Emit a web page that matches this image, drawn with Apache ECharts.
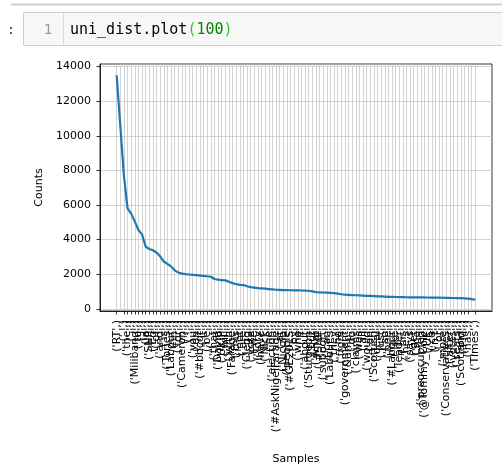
<!DOCTYPE html>
<html>
    <head>
        <meta charset="utf-8">
        <title>uni_dist</title>
    </head>
    <body style="margin: 0; background: #fff">
        <div id="container" style="width: 502px; height: 470px"></div>
        <script src="https://cdn.jsdelivr.net/npm/echarts@6/dist/echarts.min.js"></script>
        <script>
            // top 100 samples of the frequency distribution
            let samples = [
                "RT", ":", ".", "the", ",", "Miliband", "to", "I", "a", "SNP",
                "Ed", "of", "and", "is", "Tories", "Labour", "in", "for", "Cameron", "?",
                "!", "you", "on", "#bbcqt", "it", "be", "...", "that", "David", "UKIP",
                "will", "with", "Farage", "this", "not", "are", "Clegg", "vote", "we", "Tory",
                "have", "Nick", "he", "election", "#AskNigelFarage", "at", "Nicola", "people", "#GE2015", "by",
                "who", "if", "about", "Sturgeon", "but", "what", "#SNP", "support", "can", "Labour's",
                "they", "no", "from", "government", "&amp;", "do", "claims", "was", "all", "would",
                "an", "Scottish", "deal", "just", "so", "one", "#Labour", "like", "leader", "his",
                "he's", "says", "get", "me", "preoccupied", "@Tommy_Colc", "UK", "ca", "n't", "or",
                "more", "Conservatives", "after", "votes", "seats", "Scotland", "PM", "has", "#Tories", "Times"
            ];

            let counts = [
                13500, 10600, 7700, 5800, 5500, 5050, 4550, 4300, 3600, 3450,
                3380, 3250, 3030, 2730, 2590, 2450, 2220, 2100, 2030, 2000,
                1980, 1960, 1940, 1920, 1900, 1880, 1850, 1720, 1680, 1660,
                1640, 1560, 1480, 1420, 1380, 1370, 1300, 1250, 1220, 1190,
                1180, 1160, 1140, 1120, 1100, 1090, 1080, 1075, 1070, 1065,
                1060, 1055, 1045, 1040, 1000, 960, 950, 940, 930, 920,
                900, 870, 840, 810, 800, 790, 780, 770, 760, 750,
                740, 730, 720, 710, 700, 690, 685, 680, 675, 670,
                665, 662, 660, 658, 655, 652, 650, 648, 645, 640,
                635, 630, 625, 622, 618, 614, 605, 590, 560, 520
            ];

            let yTicks = [0, 2000, 4000, 6000, 8000, 10000, 12000, 14000];

            let xIndex = [];
            let points = [];
            for (let index = 0; index < samples.length; index++) {
                xIndex.push(index);
                points.push([index, counts[index]]);
            }

            let dom = document.getElementById("container");
            let chart = echarts.init(dom, null, { renderer: "canvas" });

            let option = {
                animation: false,
                textStyle: { fontFamily: "DejaVu Sans" },
                graphic: [
                    { type: "line", shape: { x1: 11, y1: 4.5, x2: 502, y2: 4.5 }, style: { stroke: "#cfcfcf", lineWidth: 2 } },
                    { type: "rect", shape: { x: 23.5, y: 12.5, width: 490, height: 33 }, style: { fill: "#f7f7f7", stroke: "#cfcfcf", lineWidth: 1 } },
                    { type: "line", shape: { x1: 63.5, y1: 13, x2: 63.5, y2: 45 }, style: { stroke: "#dddddd", lineWidth: 1 } },
                    { type: "text", x: 11, y: 30, style: { text: ":", fill: "#303f9f", font: "14px DejaVu Sans Mono", align: "center", verticalAlign: "middle" } },
                    { type: "text", x: 48, y: 30, style: { text: "1", fill: "#999999", font: "14px DejaVu Sans Mono", align: "center", verticalAlign: "middle" } },
                    {
                        type: "text", x: 70, y: 30,
                        style: {
                            text: "{c|uni_dist.plot}{b|(}{n|100}{b|)}",
                            verticalAlign: "middle",
                            font: "15px DejaVu Sans Mono",
                            rich: {
                                c: { fill: "#000000", font: "15px DejaVu Sans Mono" },
                                b: { fill: "#33cc33", font: "15px DejaVu Sans Mono" },
                                n: { fill: "#008800", font: "15px DejaVu Sans Mono" }
                            }
                        }
                    }
                ],
                grid: {
                    left: 100,
                    right: 10,
                    top: 64,
                    bottom: 150,
                    show: true,
                    borderColor: "#000",
                    borderWidth: 0.8
                },
                xAxis: {
                    type: "value",
                    min: -4.6,
                    max: 103.6,
                    name: "Samples",
                    nameLocation: "middle",
                    nameGap: 143,
                    nameTextStyle: { fontSize: 11, color: "#000" },
                    axisLine: { onZero: false, lineStyle: { color: "#000", width: 0.8 } },
                    axisTick: { customValues: xIndex, length: 3.5, lineStyle: { color: "#000", width: 0.8 } },
                    axisLabel: {
                        customValues: xIndex,
                        interval: 0,
                        hideOverlap: false,
                        showMinLabel: true,
                        showMaxLabel: true,
                        rotate: 90,
                        margin: 9,
                        fontSize: 11,
                        color: "#000",
                        formatter: function (value) {
                            return "('" + samples[Math.round(value)] + "',)";
                        }
                    },
                    splitLine: { show: true, lineStyle: { color: "#c8c8c8", width: 0.8 } }
                },
                yAxis: {
                    type: "value",
                    min: -130,
                    max: 14150,
                    name: "Counts",
                    nameLocation: "middle",
                    nameRotate: 90,
                    nameGap: 52,
                    nameTextStyle: { fontSize: 11, color: "#000" },
                    axisLine: { show: true, onZero: false, lineStyle: { color: "#000", width: 0.8 } },
                    axisTick: { show: true, customValues: yTicks, length: 3.5, lineStyle: { color: "#000", width: 0.8 } },
                    axisLabel: {
                        customValues: yTicks,
                        margin: 9,
                        fontSize: 11,
                        color: "#000",
                        formatter: function (value) {
                            return String(value);
                        }
                    },
                    splitLine: { show: true, lineStyle: { color: "#c8c8c8", width: 0.8 } }
                },
                series: [
                    {
                        type: "line",
                        data: points,
                        showSymbol: false,
                        lineStyle: { color: "#1f77b4", width: 2.2 },
                        itemStyle: { color: "#1f77b4" }
                    }
                ]
            };

            chart.setOption(option);
        </script>
    </body>
</html>
